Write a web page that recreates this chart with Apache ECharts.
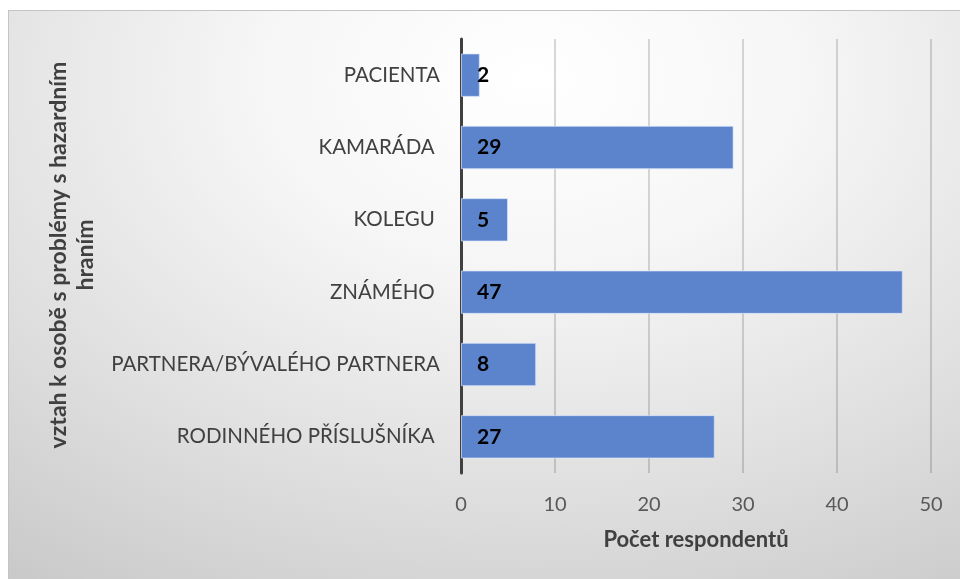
<!DOCTYPE html>
<html>
<head>
<meta charset="utf-8">
<script src="https://cdn.jsdelivr.net/npm/echarts@6/dist/echarts.min.js"></script>
<style>
  html, body { margin: 0; padding: 0; background: #ffffff; }
  #frame {
    position: absolute; left: 8px; top: 10px; width: 952px; height: 569px;
    background: radial-gradient(ellipse 95% 110% at 55% 12%, #ffffff 0%, #f6f6f6 30%, #e0e0e0 65%, #c8c8c8 100%);
    box-shadow: inset 1px 1px 0 #c4c4c4;
  }
  #chart { width: 952px; height: 569px; }
</style>
</head>
<body>
<div id="frame"><div id="chart"></div></div>
<script>
// Categories listed bottom-to-top, as the category axis draws them
const categories = [
  'RODINNÉHO PŘÍSLUŠNÍKA ',
  'PARTNERA/BÝVALÉHO PARTNERA',
  'ZNÁMÉHO ',
  'KOLEGU ',
  'KAMARÁDA ',
  'PACIENTA'
];
const respondents = [27, 8, 47, 5, 29, 2];
const valueTicks = { min: 0, max: 50, interval: 10 };
const xAxisTitle = 'Počet respondentů';
const yAxisTitle = ['vztah k osobě s problémy s hazardním', 'hraním'];

const FONT = 'Lato, "Open Sans", sans-serif';

const chart = echarts.init(document.getElementById('chart'), null, { renderer: 'canvas' });

chart.setOption({
  animation: false,
  backgroundColor: 'transparent',
  grid: { left: 453, right: 29, top: 29, bottom: 106, containLabel: false },
  xAxis: {
    type: 'value',
    min: valueTicks.min,
    max: valueTicks.max,
    interval: valueTicks.interval,
    name: xAxisTitle,
    nameLocation: 'middle',
    nameGap: 56,
    nameTextStyle: { fontFamily: FONT, fontSize: 22, fontWeight: 'bold', color: '#404040' },
    axisLine: { show: false },
    axisTick: { show: false },
    axisLabel: { margin: 22, fontFamily: FONT, fontSize: 20, color: '#595959' },
    splitLine: { show: true, lineStyle: { color: 'rgba(0,0,0,0.2)', width: 1.5 } }
  },
  yAxis: {
    type: 'category',
    data: categories,
    axisLine: { show: true, lineStyle: { color: '#404040', width: 3 } },
    axisTick: { show: false },
    axisLabel: { margin: 21, fontFamily: FONT, fontSize: 20.5, color: '#404040' },
    splitLine: { show: false }
  },
  graphic: [{
    type: 'text',
    x: 64,
    y: 245,
    rotation: Math.PI / 2,
    style: {
      text: yAxisTitle.join('\n'),
      fontFamily: FONT,
      fontSize: 23,
      fontWeight: 'bold',
      fill: '#404040',
      textAlign: 'center',
      textVerticalAlign: 'middle',
      lineHeight: 27
    }
  }],
  series: [{
    type: 'bar',
    data: respondents,
    barCategoryGap: '40%',
    itemStyle: { color: '#5b84cc', borderColor: 'rgba(220,230,250,0.7)', borderWidth: 1 },
    label: {
      show: true,
      position: [16, '50%'],
      align: 'left',
      verticalAlign: 'middle',
      fontFamily: FONT,
      fontSize: 21,
      fontWeight: 'bold',
      color: '#000000'
    }
  }]
});
</script>
</body>
</html>
